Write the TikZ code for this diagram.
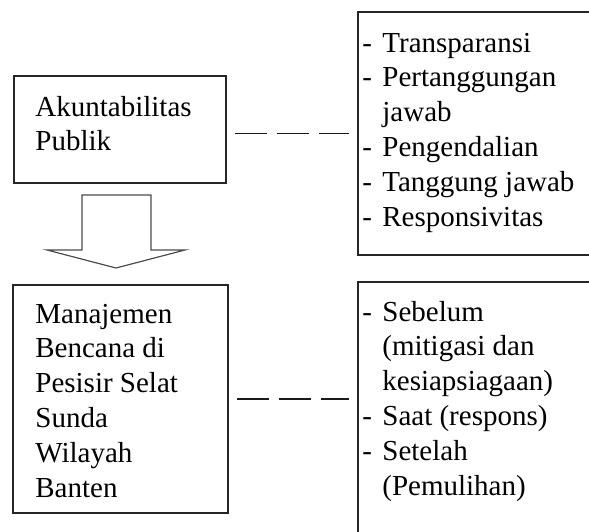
\documentclass[tikz,border=0pt]{standalone}
\usepackage{fontspec}
\setmainfont{Liberation Serif}
\usepackage{tikz}
\usetikzlibrary{fit}

\newcommand{\tanda}{\makebox[10pt][l]{-}}
\newcommand{\lanjut}{\hspace*{10pt}}

\begin{document}
\begin{tikzpicture}[line join=miter,x=0.5pt,y=-0.5pt,
  kotak/.style={draw=black!85,line width=0.7pt,inner sep=0pt},
  teks/.style={anchor=north west,align=left,inner sep=0pt,font=\fontsize{14.5}{17.4}\selectfont},
  putus/.style={draw=black!90,line width=0.75pt,dash pattern=on 16pt off 5pt,shorten <=4pt,shorten >=4pt}]
\useasboundingbox (0,0) rectangle (589,531);
\clip (0,0) rectangle (589,531);
% kotak kiri
\node[kotak,fit={(14,76) (226,183)}] (akun) {};
\node[kotak,fit={(13,285) (228,513)}] (manaj) {};
% kotak kanan, terpotong di tepi
\node[kotak,fit={(358,12) (640,255)}] (indik) {};
\node[kotak,fit={(358,282) (640,580)}] (tahap) {};
% teks
\node[teks] (tAkun) at (35,95.5) {Akuntabilitas\\Publik};
\node[teks] (tManaj) at (35,303.5) {Manajemen\\Bencana di\\Pesisir Selat\\Sunda\\Wilayah\\Banten};
\node[teks] (tIndik) at (362,32.5) {\tanda Transparansi\\\tanda Pertanggungan\\\lanjut jawab\\\tanda Pengendalian\\\tanda Tanggung jawab\\\tanda Responsivitas};
\node[teks] (tTahap) at (362,300.5) {\tanda Sebelum\\\lanjut (mitigasi dan\\\lanjut kesiapsiagaan)\\\tanda Saat (respons)\\\tanda Setelah\\\lanjut (Pemulihan)};
% panah kosong
\draw[draw=black!70,line width=0.6pt] (82,250)--(82,195)--(151,195)--(151,250)--(185,250)--(116,268)--(47,250)--cycle;
% garis putus-putus
\draw[putus] (akun.east |- indik.west) -- (indik.west);
\draw[putus] (manaj.east) -- (manaj.east -| tahap.west);
\end{tikzpicture}
\end{document}
